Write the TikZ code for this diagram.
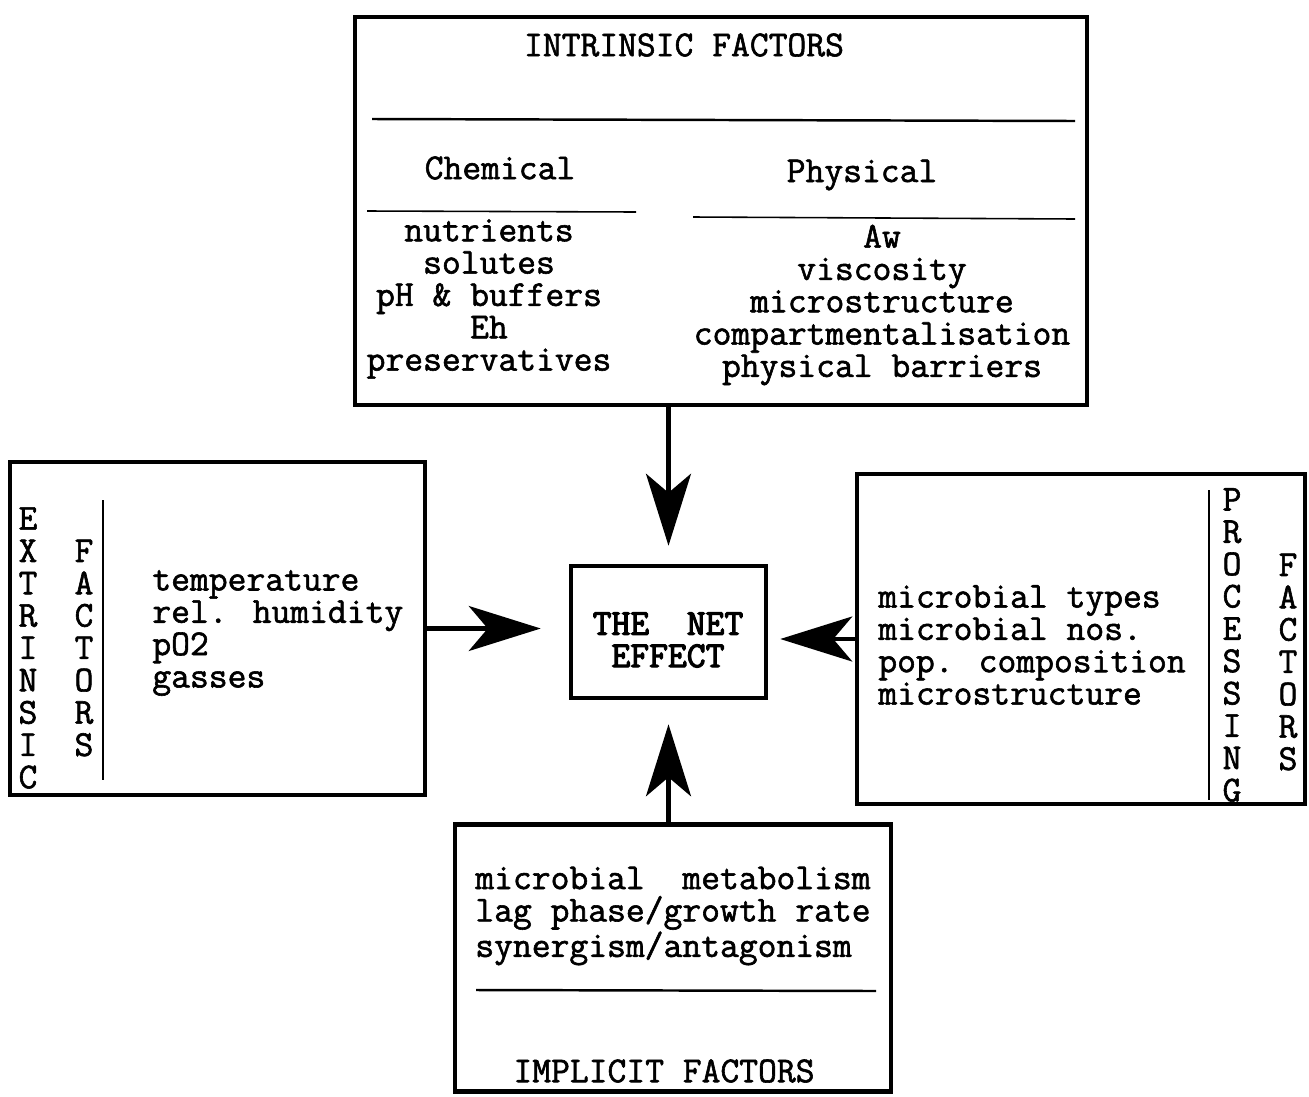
\documentclass[tikz,border=0pt]{standalone}
\usepackage{fontspec}
\newfontfamily\mono[FakeBold=1.6]{Latin Modern Mono}
\newfontfamily\monob[FakeBold=3.2]{Latin Modern Mono}
\usetikzlibrary{arrows.meta}
\begin{document}
\begin{tikzpicture}[x=0.02cm,y=-0.02cm,
  box/.style={draw,line width=2.6pt,inner sep=0pt,fill=none},
  txt/.style={font=\mono\fontsize{20.8}{18.4}\selectfont,inner sep=0pt},
  rule/.style={line width=1.4pt},
  thinrule/.style={line width=0.9pt},
  arr/.style={line width=2.3pt,-{Stealth[length=1.44cm,width=0.9cm,inset=0.38cm]}}]
\useasboundingbox (0,0) rectangle (1309,1096);
\fill[white] (0,0) rectangle (1309,1096);
% boxes
\node[box,minimum width=14.64cm,minimum height=7.76cm] (intr) at (721,211) {};
\node[box,minimum width=8.3cm,minimum height=6.66cm] (ext) at (217.5,628.5) {};
\node[box,minimum width=8.96cm,minimum height=6.6cm] (proc) at (1081,639) {};
\node[box,minimum width=3.9cm,minimum height=2.64cm] (net) at (668.5,632) {};
\node[box,minimum width=8.72cm,minimum height=5.34cm] (impl) at (673,958) {};
% intrinsic contents
\node[txt] (intrt) at (684,45) {INTRINSIC FACTORS};
\draw[rule] (372,119) -- (1075,121);
\node[txt] (chem) at (500,168) {Chemical};
\node[txt] (phys) at (862,175) {Physical};
\draw[thinrule] (367,211) -- (636,212);
\draw[thinrule] (693,217) -- (1075,219);
\node[txt,align=center] (chemlist) at (489,299) {nutrients\\solutes\\pH \& buffers\\Eh\\preservatives};
\node[txt,align=center] (physlist) at (882,305) {Aw\\viscosity\\microstructure\\compartmentalisation\\physical barriers};
% extrinsic contents
\node[txt,align=center] (extv) at (28,648) {E\\X\\T\\R\\I\\N\\S\\I\\C};
\node[txt,align=center] (extf) at (84,648) {F\\A\\C\\T\\O\\R\\S};
\draw[rule] (103,500) -- (103,780);
\node[txt,align=left,anchor=west] (extlist) at (152,633) {temperature\\rel. humidity\\pO2\\gasses};
% processing contents
\node[txt,align=left,anchor=west] (proclist) at (878,645) {microbial types\\microbial nos.\\pop. composition\\microstructure};
\draw[rule] (1209,490) -- (1209,800);
\node[txt,align=center] (procv) at (1232,645) {P\\R\\O\\C\\E\\S\\S\\I\\N\\G};
\node[txt,align=center] (procf) at (1288,662) {F\\A\\C\\T\\O\\R\\S};
% net effect
\node[txt,font=\monob\fontsize{20.8}{18.4}\selectfont,align=center] (nett) at (668,640) {THE\ \ NET\\EFFECT};
% implicit contents
\node[txt,align=left,anchor=west] (impllist) at (475,916) {microbial\ \ metabolism\\lag phase/growth rate\\synergism/antagonism};
\draw[rule] (476,990) -- (876,991);
\node[txt] (implt) at (664,1071) {IMPLICIT FACTORS};
% arrows
\draw[arr,shorten >=0.36cm] (net.north |- intr.south) -- (net.north);
\draw[arr,shorten >=0.56cm] (ext.east) -- (ext.east -| net.west);
\draw[arr,shorten >=0.24cm] (proc.west) -- (proc.west -| net.east);
\draw[arr,shorten >=0.48cm] (impl.north -| net.south) -- (net.south);
\end{tikzpicture}
\end{document}
